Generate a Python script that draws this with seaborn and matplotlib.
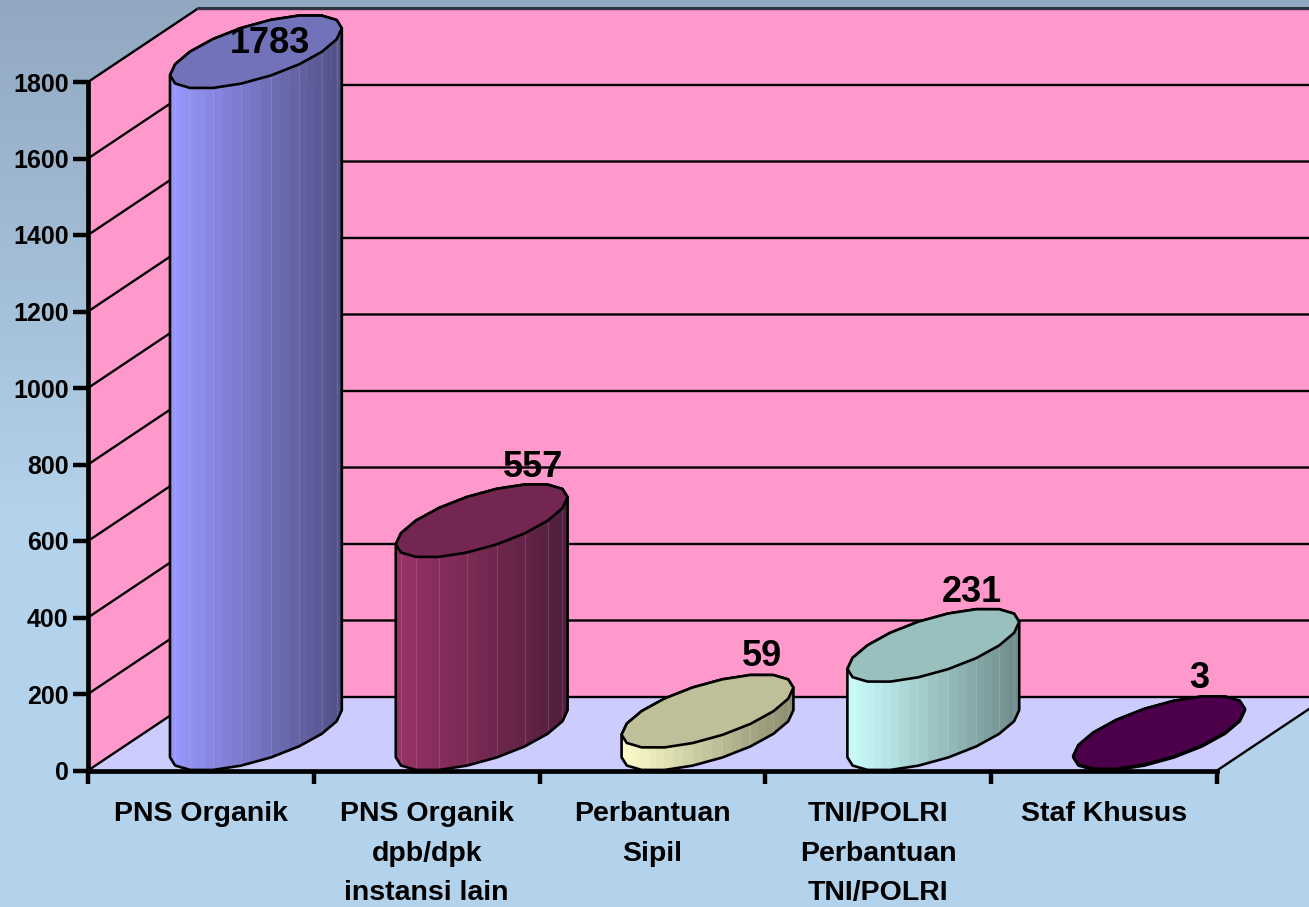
import numpy as np
import pandas as pd
import matplotlib
matplotlib.use("Agg")
import matplotlib.pyplot as plt
from matplotlib.colors import LinearSegmentedColormap, to_rgb
from matplotlib.patches import Polygon
import seaborn as sns

categories = ["PNS Organik", "PNS Organik\ndpb/dpk\ninstansi lain", "Perbantuan\nSipil",
              "TNI/POLRI\nPerbantuan\nTNI/POLRI", "Staf Khusus"]
values = [1783, 557, 59, 231, 3]
y_ticks = list(range(0, 1801, 200))

top_colors = ["#7272BB", "#722650", "#BFBF99", "#99BFBF", "#4C004C"]
left_colors = ["#9999FF", "#993366", "#FFFFCC", "#CCFFFF", "#660066"]
right_colors = ["#505085", "#501E3C", "#8A8A6E", "#6E8A8A", "#3C003C"]
label_offsets_px = [(14, -8), (51, -53), (55, -55), (39, -53), (40, -54)]

W, H = 1309, 907
L, R, T, B = 88, 1217, 82, 770.5
sns.set_theme(style="white")
plt.rcParams["font.family"] = ["Liberation Sans", "DejaVu Sans"]
plt.rcParams["font.weight"] = "bold"

fig = plt.figure(figsize=(W / 100, H / 100), dpi=100)

# background gradient
bg = fig.add_axes([0, 0, 1, 1], zorder=0)
cmap = LinearSegmentedColormap.from_list("bg", ["#92A8C0", "#B3D2EC"])
bg.imshow(np.clip(np.linspace(0, 1.75, 256), 0, 1)[:, None], aspect="auto", cmap=cmap,
          vmin=0, vmax=1)
bg.axis("off")

ax = fig.add_axes([L / W, 1 - B / H, (R - L) / W, (B - T) / H], zorder=1)
df = pd.DataFrame({"cat": categories, "val": values})
sns.barplot(data=df, x="cat", y="val", hue="cat", palette=top_colors, legend=False,
            dodge=False, ax=ax, saturation=1)
ax.set_xlim(-0.5, 4.5)
ax.set_ylim(0, 1800)
ax.patch.set_alpha(0)
ax.set_xlabel("")
ax.set_ylabel("")

# depth of the 3D box, in data units
px_x = (R - L) / 5
px_y = (B - T) / 1800
DX, DY = 110 / px_x, 73.5 / px_y
U = 66 / px_x
XMIN, XMAX, YTOP = -0.5, 4.5, 1800

# walls and floor
ax.fill([XMIN, XMIN + DX, XMIN + DX, XMIN], [0, DY, YTOP + DY, YTOP], color="#FF99CC", lw=0, clip_on=False, zorder=0.1)
ax.fill([XMIN + DX, XMAX + DX, XMAX + DX, XMIN + DX], [DY, DY, YTOP + DY, YTOP + DY], color="#FF99CC", lw=0, clip_on=False, zorder=0.1)
ax.fill([XMIN, XMAX, XMAX + DX, XMIN + DX], [0, 0, DY, DY], color="#CCCCFF", lw=0, clip_on=False, zorder=0.2)
for v in y_ticks:
    ax.plot([XMIN, XMIN + DX, XMAX + DX], [v, v + DY, v + DY], color="black", lw=1.7,
            clip_on=False, zorder=0.5, solid_capstyle="butt")
ax.plot([XMAX, XMAX + DX], [0, DY], color="black", lw=1.7, clip_on=False, zorder=0.5)
ax.plot([XMIN + DX, XMAX + DX], [YTOP + DY, YTOP + DY], color="#333344", lw=1.7, clip_on=False, zorder=0.5)

# axes
for side in ("top", "right"):
    ax.spines[side].set_visible(False)
for side in ("left", "bottom"):
    ax.spines[side].set_linewidth(3.4)
    ax.spines[side].set_color("black")
ax.set_yticks(y_ticks)
ax.set_yticklabels([str(v) for v in y_ticks], fontsize=18, fontweight="bold", color="black")
ax.tick_params(axis="y", length=11, width=3.2, pad=3, color="black", left=True)
ax.set_xticks(np.arange(-0.5, 5, 1))
ax.set_xticklabels([])
ax.tick_params(axis="x", which="major", length=9, width=3.2, color="black", bottom=True)
ax.set_xticks(range(5), minor=True)
ax.set_xticklabels(categories, minor=True, fontsize=20.5, fontweight="bold", color="black",
                   linespacing=1.68)
ax.tick_params(axis="x", which="minor", length=0, pad=22, bottom=False)
for lab in ax.get_xticklabels(minor=True):
    lab.set_verticalalignment("top")

# cylinders
N = 18
t0 = np.arctan2(DX / 2, U)
ts = t0 - np.arange(N + 1) * 2 * np.pi / N


def ring(cx, base, t):
    return cx + U * np.cos(t) + DX / 2 * np.sin(t), base + DY / 2 + DY / 2 * np.sin(t)


for i, container in enumerate(ax.containers):
    bar = container[0]
    v = bar.get_height()
    cx = bar.get_x() + bar.get_width() / 2 + DX / 2
    # silhouette: lower half of the base ring, upper half of the top ring
    xb, yb = ring(cx, 0, ts[: N // 2 + 1])
    xt, yt = ring(cx, v, ts[N // 2: N + 1])
    sil = np.column_stack([np.r_[xb, xt], np.r_[yb, yt]])
    bar.set_x(sil[:, 0].min())
    bar.set_width(np.ptp(sil[:, 0]))
    bar.set_y(sil[:, 1].min())
    bar.set_height(np.ptp(sil[:, 1]))
    bar.set_zorder(2.9)
    bar.set_clip_path(Polygon(sil, transform=ax.transData))
    # shaded body strips
    c0, c1 = np.array(to_rgb(left_colors[i])), np.array(to_rgb(right_colors[i]))
    xmin, xmax = xb.min(), xb.max()
    for k in range(N // 2):
        for j in range(3):
            f0, f1 = j / 3, (j + 1) / 3
            xa = xb[k] + (xb[k + 1] - xb[k]) * f0
            xc = xb[k] + (xb[k + 1] - xb[k]) * f1
            ya = yb[k] + (yb[k + 1] - yb[k]) * f0
            yc = yb[k] + (yb[k + 1] - yb[k]) * f1
            col = c0 + (c1 - c0) * (((xa + xc) / 2 - xmin) / (xmax - xmin))
            ax.fill([xa, xc, xc, xa], [ya, yc, yc + v, ya + v], color=col, lw=0.3,
                    clip_on=False, zorder=3)
            if j == 0 and v > 20:
                ax.plot([xa, xa], [ya, ya + v], color="white", alpha=0.13, lw=0.8,
                        clip_on=False, zorder=3.1)
    ax.add_patch(Polygon(sil, closed=True, fill=False, edgecolor="black", lw=1.9,
                         joinstyle="round", clip_on=False, zorder=3.5))
    xr, yr = ring(cx, v, ts[:N])
    ax.add_patch(Polygon(np.column_stack([xr, yr]), closed=True, facecolor=top_colors[i],
                         edgecolor="black", lw=1.9, joinstyle="round", clip_on=False, zorder=3.6))
    ox, oy = label_offsets_px[i]
    ax.annotate(str(values[i]), (cx, v + DY / 2), xytext=(ox * 0.72, -oy * 0.72),
                textcoords="offset points", ha="center", va="center", fontsize=26,
                fontweight="bold", color="black", zorder=5, annotation_clip=False)

fig.savefig("out.png", dpi=100)
